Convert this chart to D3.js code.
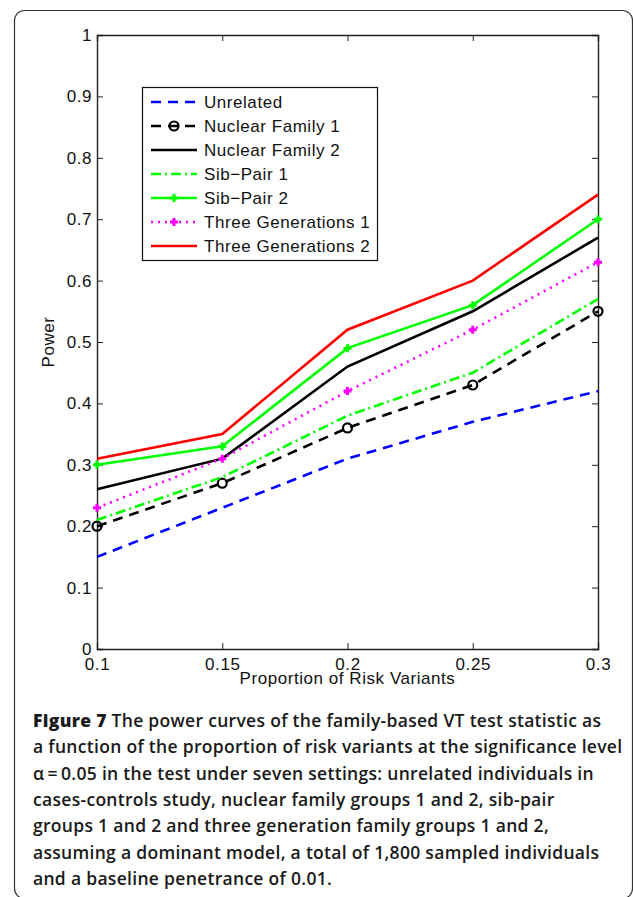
<!DOCTYPE html>
<html><head><meta charset="utf-8">
<script src="https://cdn.jsdelivr.net/npm/d3@7"></script>
<style>body{margin:0;background:#fff}svg{display:block}</style>
</head><body>
<script>
const xValues = [0.1, 0.15, 0.2, 0.25, 0.3];
const xTicks = [0.1, 0.15, 0.2, 0.25, 0.3];
const yTicks = [0, 0.1, 0.2, 0.3, 0.4, 0.5, 0.6, 0.7, 0.8, 0.9, 1];
const seriesNames = ["Unrelated","Nuclear Family 1","Nuclear Family 2","Sib\u2212Pair 1","Sib\u2212Pair 2","Three Generations 1","Three Generations 2"];
const unrelated = [0.15, 0.23, 0.31, 0.37, 0.42];
const nuclear1 = [0.20, 0.27, 0.36, 0.43, 0.55];
const nuclear2 = [0.26, 0.31, 0.46, 0.55, 0.67];
const sibPair1 = [0.21, 0.28, 0.38, 0.45, 0.57];
const sibPair2 = [0.30, 0.33, 0.49, 0.56, 0.70];
const threeGen1 = [0.23, 0.31, 0.42, 0.52, 0.63];
const threeGen2 = [0.31, 0.35, 0.52, 0.60, 0.74];
const captionLines = [
 ["Figure 7", " The power curves of the family-based VT test statistic as"],
 ["", "a function of the proportion of risk variants at the significance level"],
 ["", "\u03b1\u2009=\u20090.05 in the test under seven settings: unrelated individuals in"],
 ["", "cases-controls study, nuclear family groups 1 and 2, sib-pair"],
 ["", "groups 1 and 2 and three generation family groups 1 and 2,"],
 ["", "assuming a dominant model, a total of 1,800 sampled individuals"],
 ["", "and a baseline penetrance of 0.01."]
];

const styles = [
 {color:"#0000ff", dash:"10,7", marker:null},
 {color:"#000000", dash:"10,7", marker:"circle"},
 {color:"#000000", dash:null, marker:null},
 {color:"#00ff00", dash:"10,4,2,4", marker:null},
 {color:"#00ff00", dash:null, marker:"plus"},
 {color:"#ff00ff", dash:"2,5", marker:"plus"},
 {color:"#ff0000", dash:null, marker:null}
];
const allSeries = [unrelated, nuclear1, nuclear2, sibPair1, sibPair2, threeGen1, threeGen2];

const W = 633, H = 897;
const svg = d3.select("body").append("svg").attr("width", W).attr("height", H);

// outer frame
svg.append("rect").attr("x",14.5).attr("y",10.5).attr("width",618).attr("height",888)
  .attr("rx",10).attr("fill","none").attr("stroke","#333").attr("stroke-width",1.2);

const L = 97, R = 598, T = 35, B = 649;
const x = d3.scaleLinear().domain([0.1,0.3]).range([L,R]);
const y = d3.scaleLinear().domain([0,1]).range([B,T]);
const font = "'Liberation Sans', Arial, Helvetica, sans-serif";
const fs = 17, ls = "0.55px";

const g = svg.append("g");
const fmt = d => d === 0 ? "0" : d === 1 ? "1" : String(d);
const xAxis = g.append("g").attr("transform",`translate(0,${B})`)
  .call(d3.axisBottom(x).tickValues(xTicks).tickSize(-6).tickPadding(9).tickFormat(fmt));
const xAxisTop = g.append("g").attr("transform",`translate(0,${T})`)
  .call(d3.axisTop(x).tickValues(xTicks).tickSize(-6).tickFormat(""));
const yAxis = g.append("g").attr("transform",`translate(${L},0)`)
  .call(d3.axisLeft(y).tickValues(yTicks).tickSize(-6).tickPadding(5).tickFormat(fmt));
const yAxisR = g.append("g").attr("transform",`translate(${R},0)`)
  .call(d3.axisRight(y).tickValues(yTicks).tickSize(-6).tickFormat(""));
[xAxis,xAxisTop,yAxis,yAxisR].forEach(a=>{
  a.select(".domain").attr("stroke","#222").attr("stroke-width",1.4);
  a.selectAll(".tick line").attr("stroke","#222").attr("stroke-width",1);
  a.selectAll("text").attr("font-family",font).attr("font-size",fs)
    .attr("letter-spacing",ls).attr("fill","#111");
});
xAxis.selectAll("text").attr("dy","0.71em");

svg.append("text").attr("x",(L+R)/2).attr("y",684).attr("text-anchor","middle")
  .attr("font-family",font).attr("font-size",fs).attr("letter-spacing",ls)
  .attr("fill","#111").text("Proportion of Risk Variants");
svg.append("text").attr("transform",`translate(54,${(T+B)/2}) rotate(-90)`).attr("text-anchor","middle")
  .attr("font-family",font).attr("font-size",fs).attr("letter-spacing",ls)
  .attr("fill","#111").text("Power");

const line = d3.line().x((d,i)=>x(xValues[i])).y(d=>y(d));
function drawMarker(sel, type, color, cx, cy){
  if(type==="circle"){
    sel.append("circle").attr("cx",cx).attr("cy",cy).attr("r",4.5)
      .attr("fill","none").attr("stroke","#000").attr("stroke-width",2.2);
  } else if(type==="plus"){
    sel.append("path").attr("d",`M${cx-4},${cy}H${cx+4}M${cx},${cy-4}V${cy+4}`)
      .attr("stroke",color).attr("stroke-width",3).attr("fill","none");
  }
}
allSeries.forEach((vals,k)=>{
  const s = styles[k];
  const p = g.append("path").datum(vals).attr("d",line).attr("fill","none")
    .attr("stroke",s.color).attr("stroke-width",2.6);
  if(s.dash) p.attr("stroke-dasharray",s.dash);
  if(s.marker) vals.forEach((v,i)=>drawMarker(g,s.marker,s.color,x(xValues[i]),y(v)));
});

// legend
const lg = svg.append("g");
lg.append("rect").attr("x",142.5).attr("y",87.5).attr("width",235).attr("height",173)
  .attr("fill","#fff").attr("stroke","#111").attr("stroke-width",1.2);
seriesNames.forEach((name,k)=>{
  const s = styles[k];
  const yy = 102 + k*24;
  const p = lg.append("path").attr("d",`M151,${yy}H197`).attr("stroke",s.color)
    .attr("stroke-width",2.6).attr("fill","none");
  if(s.dash) p.attr("stroke-dasharray", s.dash);
  if(s.marker) drawMarker(lg,s.marker,s.color,174,yy);
  lg.append("text").attr("x",204).attr("y",yy).attr("dy","0.36em")
    .attr("font-family",font).attr("font-size",fs).attr("letter-spacing",ls)
    .attr("fill","#111").text(name);
});

// caption
const cap = svg.append("g");
captionLines.forEach((ln,i)=>{
  const t = cap.append("text").attr("x",33).attr("y",727 + i*26.3)
    .attr("font-family","'Open Sans', 'Noto Sans', sans-serif").attr("font-size",17.5)
    .attr("letter-spacing","0.3px").attr("font-weight",600).attr("fill","#1a1a1a");
  if(ln[0]) t.append("tspan").attr("font-weight",800).text(ln[0]);
  t.append("tspan").text(ln[1]);
});
</script>
</body></html>
